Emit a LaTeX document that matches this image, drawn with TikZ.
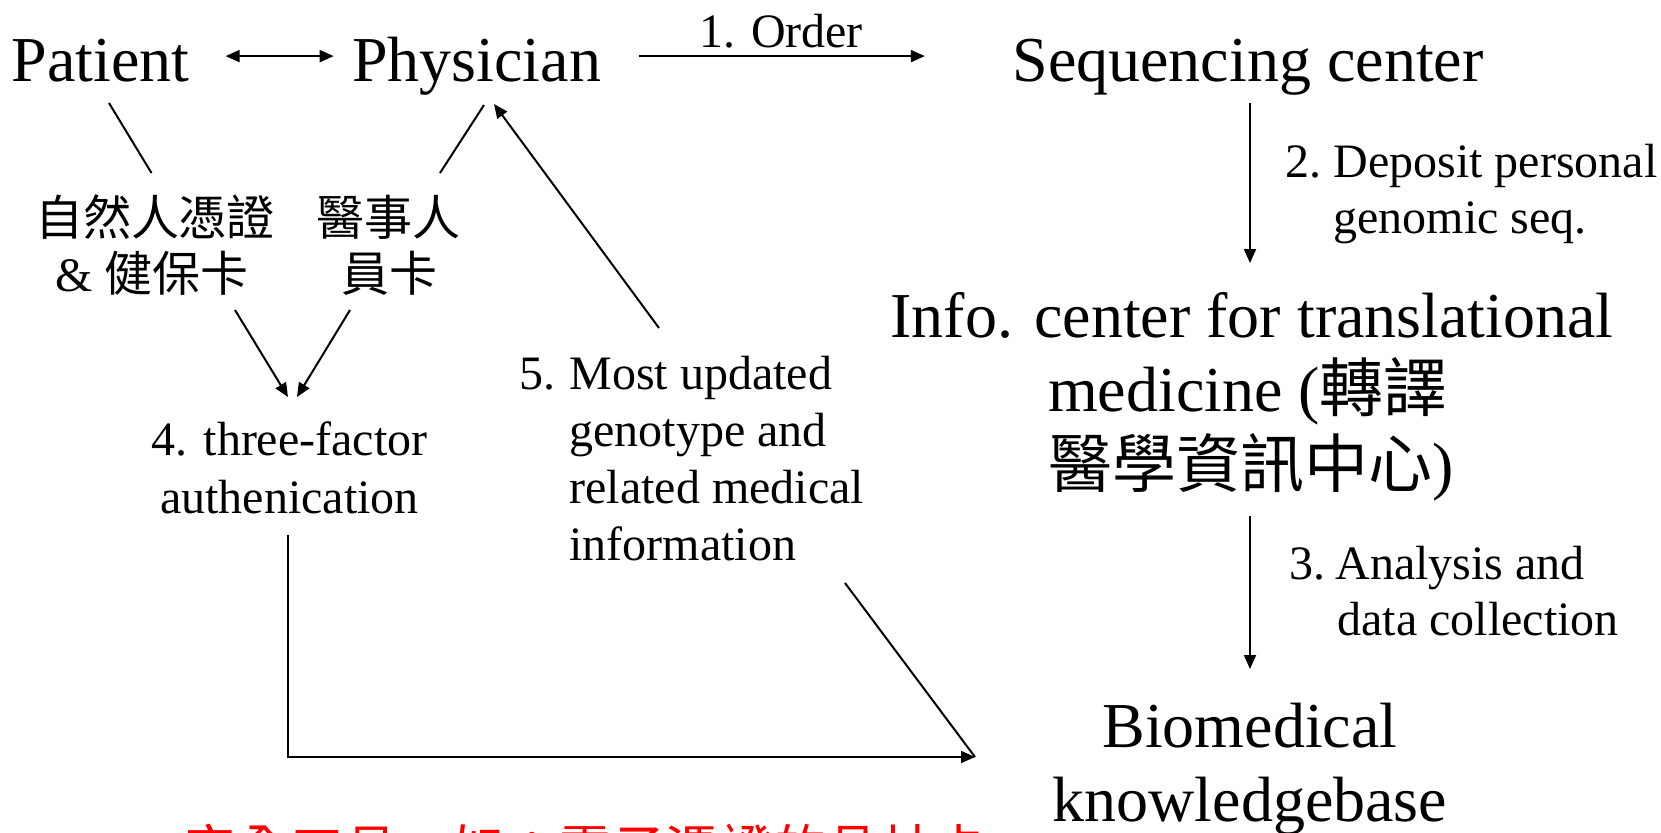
\documentclass[tikz,border=0pt]{standalone}
\usepackage{fontspec}
\setmainfont{Liberation Serif}
\newfontfamily\cjk{Noto Sans CJK TC}
\usetikzlibrary{arrows.meta}
\begin{document}
\begin{tikzpicture}[x=0.5pt,y=-0.5pt,
  big/.style={font=\fontsize{32}{38}\selectfont, inner sep=0, anchor=base},
  mid/.style={font=\fontsize{24}{28}\selectfont, inner sep=0, anchor=base},
  midl/.style={mid, anchor=base west},
  cjkmid/.style={font=\fontsize{24}{28}\selectfont\cjk, inner sep=0, anchor=base},
  link/.style={line width=1pt},
  arr/.style={link, -{Triangle[length=7pt,width=6pt]}},
  darr/.style={link, {Triangle[length=7pt,width=6pt]}-{Triangle[length=7pt,width=6pt]}},
  note/.style={font=\fontsize{26.8}{32}\selectfont\cjk, text=red, inner sep=0, anchor=base west}]
\path[use as bounding box, clip] (0,0) rectangle (1661,832);

% main actors
\node[big] (patient)   at (100.6,81.6) {Patient};
\node[big] (physician) at (476.7,81.6) {Physician};
\node[big] (seqc)      at (1248,81.6)  {Sequencing center};
\node[mid] (order)     at (781,47.7)   {1. Order};

% credentials
\node[cjkmid] (natcert) at (155,235) {自然人憑證};
\node[cjkmid] (nhicard) at (152,291) {{\rmfamily\&}~健保卡};
\node[cjkmid] (medcard1) at (388,235) {醫事人};
\node[cjkmid] (medcard2) at (389,291) {員卡};

\node[mid] (auth1) at (289.6,455.5) {4. three-factor};
\node[mid] (auth2) at (289.6,513.8) {authenication};

% step 5 label
\node[midl] (s5n) at (519,389) {5.};
\node[midl] (s5a) at (569,389) {Most updated};
\node[midl] (s5b) at (569,446) {genotype and};
\node[midl] (s5c) at (569,503) {related medical};
\node[midl] (s5d) at (569,560) {information};

% right column
\node[midl] (s2n) at (1285,177) {2.};
\node[midl] (s2a) at (1333,177) {Deposit personal};
\node[midl] (s2b) at (1333,233) {genomic seq.};

\node[big] (info1) at (1252,337) {Info. center for translational};
\node[big] (info2) at (1248,411) {medicine ({\cjk 轉譯}};
\node[big] (info3) at (1251,487) {{\cjk 醫學資訊中心})};

\node[midl] (s3n) at (1289,579.4) {3.};
\node[midl] (s3a) at (1335,579.4) {Analysis and};
\node[midl] (s3b) at (1337,635.6) {data collection};

\node[big] (kb1) at (1250,747) {Biomedical};
\node[big] (kb2) at (1250,821) {knowledgebase};

% remark line running off the lower edge
\node[note] (remark) at (183,869) {安全工具，如：電子憑證的晶片卡};

% connector end points
\coordinate (pp1) at (225.6,56.1);
\coordinate (pp2) at (333.7,56.1);
\coordinate (or1) at (638.7,56.1);
\coordinate (or2) at (924.8,56.1);
\coordinate (pa1) at (109,103);
\coordinate (pa2) at (151.5,173);
\coordinate (ph1) at (440,173);
\coordinate (ph2) at (484,105);
\coordinate (c1a) at (235,310);
\coordinate (c1b) at (288,397);
\coordinate (c2a) at (350,310);
\coordinate (c2b) at (297,397);
\coordinate (au1) at (288,535);
\coordinate (au2) at (288,757);
\coordinate (kbin) at (975,757);
\coordinate (r5a) at (659,328);
\coordinate (r5b) at (494,104);
\coordinate (d5)  at (845,583);
\coordinate (sq1) at (1250,103);
\coordinate (sq2) at (1250,263);
\coordinate (ic1) at (1250,516);
\coordinate (ic2) at (1250,669);

% connectors
\draw[darr] (pp1) -- (pp2);
\draw[arr] (or1) -- (or2);
\draw[link] (pa1) -- (pa2);
\draw[link] (ph1) -- (ph2);
\draw[arr] (c1a) -- (c1b);
\draw[arr] (c2a) -- (c2b);
\draw[arr] (au1) -- (au2) -- (kbin);
\draw[link] (d5) -- (kbin);
\draw[arr] (r5a) -- (r5b);
\draw[arr] (sq1) -- (sq2);
\draw[arr] (ic1) -- (ic2);
\end{tikzpicture}
\end{document}
